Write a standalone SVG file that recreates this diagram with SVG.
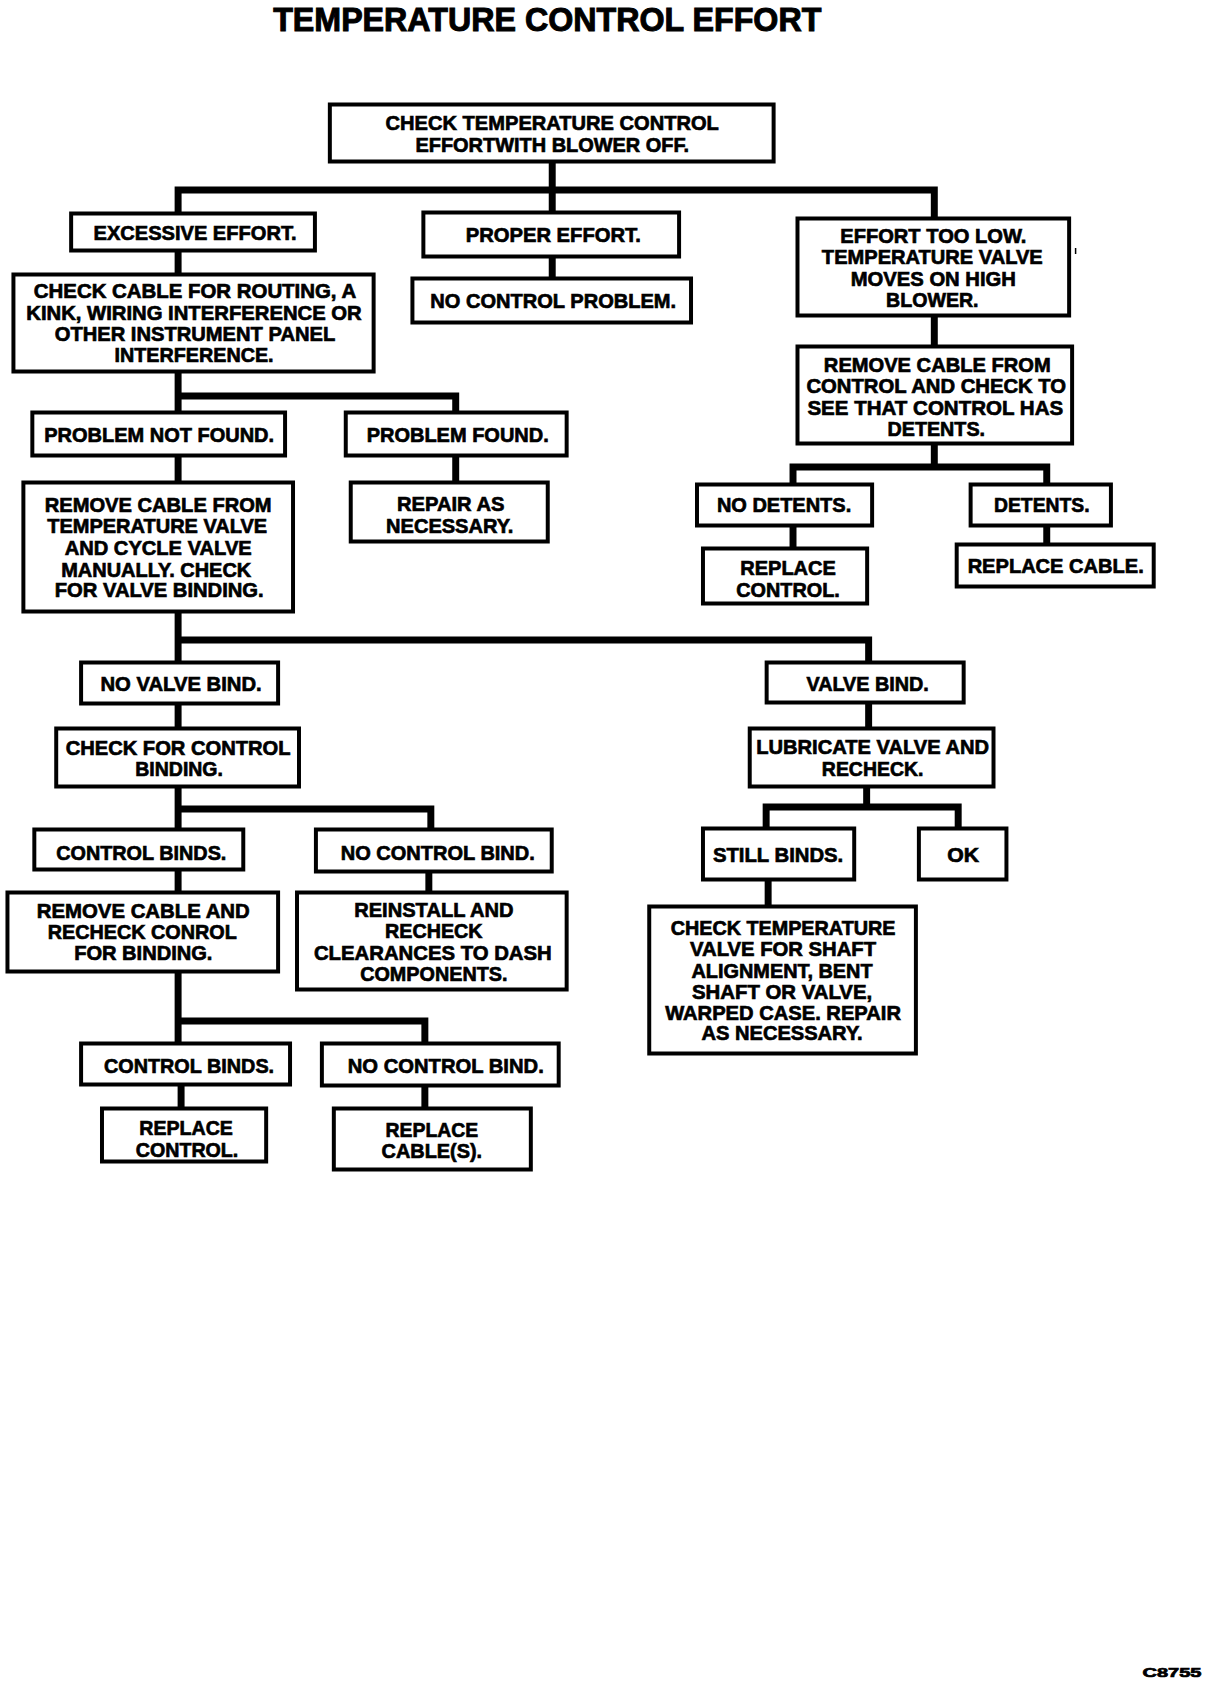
<svg xmlns="http://www.w3.org/2000/svg" width="1216" height="1692" viewBox="0 0 1216 1692">
<style>
rect.b{fill:#fff;stroke:#000;stroke-width:4}
text{font-family:"Liberation Sans",Arial,sans-serif;font-weight:bold;font-size:21px;fill:#000;stroke:#000;stroke-width:0.7px;text-anchor:middle}
.c path{fill:none;stroke:#000;stroke-width:7;stroke-linejoin:miter;stroke-linecap:butt}
</style>
<rect width="1216" height="1692" fill="#fff"/>
<g id="diagram" transform="scale(0.995,1)">
<text x="550" y="31" textLength="551" lengthAdjust="spacingAndGlyphs" style="font-size:33px;stroke-width:1px">TEMPERATURE CONTROL EFFORT</text>
<g class="c" id="connectors">
<path d="M555,163 V211"/>
<path d="M179,212 V190 H939 V217"/>
<path d="M555,258 V277"/>
<path d="M179,252 V273"/>
<path d="M939,317 V345"/>
<path d="M179,373 V411"/>
<path d="M179,396 H458 V411"/>
<path d="M179,457 V481"/>
<path d="M458,457 V481"/>
<path d="M939,445 V467"/>
<path d="M797,483 V467 H1052 V483"/>
<path d="M797,527 V547"/>
<path d="M1052,527 V543"/>
<path d="M179,613 V661"/>
<path d="M179,640 H873 V661"/>
<path d="M179,705 V727"/>
<path d="M873,704 V727"/>
<path d="M179,788 V828"/>
<path d="M179,809 H433 V828"/>
<path d="M871,788 V807"/>
<path d="M770,827 V807 H963 V827"/>
<path d="M179,871 V891"/>
<path d="M431,873 V891"/>
<path d="M772,881 V905"/>
<path d="M179,973 V1042"/>
<path d="M179,1021 H427 V1042"/>
<path d="M182,1086 V1107"/>
<path d="M427,1087 V1107"/>
</g>
<g id="n1"><rect class="b" x="331.5" y="104.5" width="446" height="57"/>
<text x="555" y="130" textLength="335" lengthAdjust="spacingAndGlyphs">CHECK TEMPERATURE CONTROL</text>
<text x="555" y="152" textLength="275" lengthAdjust="spacingAndGlyphs">EFFORTWITH BLOWER OFF.</text></g>
<g id="n2"><rect class="b" x="71.5" y="213.5" width="245" height="37"/>
<text x="196" y="240" textLength="204" lengthAdjust="spacingAndGlyphs">EXCESSIVE EFFORT.</text></g>
<g id="n3"><rect class="b" x="425.5" y="212.5" width="257" height="44"/>
<text x="556" y="242" textLength="176" lengthAdjust="spacingAndGlyphs">PROPER EFFORT.</text></g>
<g id="n4"><rect class="b" x="801.5" y="218.5" width="273" height="97"/>
<text x="938" y="243" textLength="187" lengthAdjust="spacingAndGlyphs">EFFORT TOO LOW.</text>
<text x="937" y="264" textLength="222" lengthAdjust="spacingAndGlyphs">TEMPERATURE VALVE</text>
<text x="938" y="286" textLength="166" lengthAdjust="spacingAndGlyphs">MOVES ON HIGH</text>
<text x="937" y="307" textLength="93" lengthAdjust="spacingAndGlyphs">BLOWER.</text></g>
<path d="M1081,248 V254" stroke="#000" stroke-width="1.5"/>
<g id="n5"><rect class="b" x="414.5" y="278.5" width="280" height="44"/>
<text x="556" y="308" textLength="247" lengthAdjust="spacingAndGlyphs">NO CONTROL PROBLEM.</text></g>
<g id="n6"><rect class="b" x="13.5" y="274.5" width="362" height="97"/>
<text x="196" y="298" textLength="324" lengthAdjust="spacingAndGlyphs">CHECK CABLE FOR ROUTING, A</text>
<text x="195" y="320" textLength="337" lengthAdjust="spacingAndGlyphs">KINK, WIRING INTERFERENCE OR</text>
<text x="196" y="341" textLength="282" lengthAdjust="spacingAndGlyphs">OTHER INSTRUMENT PANEL</text>
<text x="195" y="362" textLength="160" lengthAdjust="spacingAndGlyphs">INTERFERENCE.</text></g>
<g id="n7"><rect class="b" x="801.5" y="346.5" width="276" height="97"/>
<text x="942" y="372" textLength="228" lengthAdjust="spacingAndGlyphs">REMOVE CABLE FROM</text>
<text x="941" y="393" textLength="261" lengthAdjust="spacingAndGlyphs">CONTROL AND CHECK TO</text>
<text x="940" y="415" textLength="257" lengthAdjust="spacingAndGlyphs">SEE THAT CONTROL HAS</text>
<text x="941" y="436" textLength="98" lengthAdjust="spacingAndGlyphs">DETENTS.</text></g>
<g id="n8"><rect class="b" x="32.5" y="412.5" width="254" height="43"/>
<text x="160" y="442" textLength="231" lengthAdjust="spacingAndGlyphs">PROBLEM NOT FOUND.</text></g>
<g id="n9"><rect class="b" x="347.5" y="412.5" width="222" height="43"/>
<text x="460" y="442" textLength="183" lengthAdjust="spacingAndGlyphs">PROBLEM FOUND.</text></g>
<g id="n10"><rect class="b" x="23.5" y="482.5" width="271" height="129"/>
<text x="159" y="512" textLength="228" lengthAdjust="spacingAndGlyphs">REMOVE CABLE FROM</text>
<text x="158" y="533" textLength="221" lengthAdjust="spacingAndGlyphs">TEMPERATURE VALVE</text>
<text x="159" y="555" textLength="188" lengthAdjust="spacingAndGlyphs">AND CYCLE VALVE</text>
<text x="157" y="577" textLength="191" lengthAdjust="spacingAndGlyphs">MANUALLY. CHECK</text>
<text x="160" y="597" textLength="210" lengthAdjust="spacingAndGlyphs">FOR VALVE BINDING.</text></g>
<g id="n11"><rect class="b" x="352.5" y="482.5" width="198" height="59"/>
<text x="453" y="511" textLength="108" lengthAdjust="spacingAndGlyphs">REPAIR AS</text>
<text x="452" y="533" textLength="128" lengthAdjust="spacingAndGlyphs">NECESSARY.</text></g>
<g id="n12"><rect class="b" x="700.5" y="484.5" width="176" height="41"/>
<text x="788" y="512" textLength="135" lengthAdjust="spacingAndGlyphs">NO DETENTS.</text></g>
<g id="n13"><rect class="b" x="975.5" y="484.5" width="141" height="41"/>
<text x="1047" y="512" textLength="96" lengthAdjust="spacingAndGlyphs">DETENTS.</text></g>
<g id="n14"><rect class="b" x="706.5" y="548.5" width="165" height="55"/>
<text x="792" y="575" textLength="96" lengthAdjust="spacingAndGlyphs">REPLACE</text>
<text x="792" y="597" textLength="104" lengthAdjust="spacingAndGlyphs">CONTROL.</text></g>
<g id="n15"><rect class="b" x="961.5" y="544.5" width="198" height="42"/>
<text x="1061" y="573" textLength="177" lengthAdjust="spacingAndGlyphs">REPLACE CABLE.</text></g>
<g id="n16"><rect class="b" x="81.5" y="662.5" width="198" height="41"/>
<text x="182" y="691" textLength="162" lengthAdjust="spacingAndGlyphs">NO VALVE BIND.</text></g>
<g id="n17"><rect class="b" x="770.5" y="662.5" width="198" height="40"/>
<text x="872" y="691" textLength="123" lengthAdjust="spacingAndGlyphs">VALVE BIND.</text></g>
<g id="n18"><rect class="b" x="56.5" y="728.5" width="244" height="58"/>
<text x="179" y="755" textLength="226" lengthAdjust="spacingAndGlyphs">CHECK FOR CONTROL</text>
<text x="180" y="776" textLength="88" lengthAdjust="spacingAndGlyphs">BINDING.</text></g>
<g id="n19"><rect class="b" x="753.5" y="728.5" width="245" height="58"/>
<text x="877" y="754" textLength="234" lengthAdjust="spacingAndGlyphs">LUBRICATE VALVE AND</text>
<text x="877" y="776" textLength="102" lengthAdjust="spacingAndGlyphs">RECHECK.</text></g>
<g id="n20"><rect class="b" x="34.5" y="829.5" width="210" height="40"/>
<text x="142" y="860" textLength="171" lengthAdjust="spacingAndGlyphs">CONTROL BINDS.</text></g>
<g id="n21"><rect class="b" x="317.5" y="829.5" width="237" height="42"/>
<text x="440" y="860" textLength="195" lengthAdjust="spacingAndGlyphs">NO CONTROL BIND.</text></g>
<g id="n22"><rect class="b" x="706.5" y="828.5" width="152" height="51"/>
<text x="782" y="862" textLength="131" lengthAdjust="spacingAndGlyphs">STILL BINDS.</text></g>
<g id="n23"><rect class="b" x="923.5" y="828.5" width="88" height="51"/>
<text x="968" y="862" textLength="32" lengthAdjust="spacingAndGlyphs">OK</text></g>
<g id="n24"><rect class="b" x="7.5" y="892.5" width="272" height="79"/>
<text x="144" y="918" textLength="214" lengthAdjust="spacingAndGlyphs">REMOVE CABLE AND</text>
<text x="143" y="939" textLength="190" lengthAdjust="spacingAndGlyphs">RECHECK CONROL</text>
<text x="144" y="960" textLength="139" lengthAdjust="spacingAndGlyphs">FOR BINDING.</text></g>
<g id="n25"><rect class="b" x="298.5" y="892.5" width="271" height="97"/>
<text x="436" y="917" textLength="160" lengthAdjust="spacingAndGlyphs">REINSTALL AND</text>
<text x="436" y="938" textLength="98" lengthAdjust="spacingAndGlyphs">RECHECK</text>
<text x="435" y="960" textLength="239" lengthAdjust="spacingAndGlyphs">CLEARANCES TO DASH</text>
<text x="436" y="981" textLength="148" lengthAdjust="spacingAndGlyphs">COMPONENTS.</text></g>
<g id="n26"><rect class="b" x="652.5" y="906.5" width="268" height="147"/>
<text x="787" y="935" textLength="226" lengthAdjust="spacingAndGlyphs">CHECK TEMPERATURE</text>
<text x="787" y="956" textLength="187" lengthAdjust="spacingAndGlyphs">VALVE FOR SHAFT</text>
<text x="786" y="978" textLength="182" lengthAdjust="spacingAndGlyphs">ALIGNMENT, BENT</text>
<text x="786" y="999" textLength="181" lengthAdjust="spacingAndGlyphs">SHAFT OR VALVE,</text>
<text x="787" y="1020" textLength="237" lengthAdjust="spacingAndGlyphs">WARPED CASE. REPAIR</text>
<text x="786" y="1040" textLength="162" lengthAdjust="spacingAndGlyphs">AS NECESSARY.</text></g>
<g id="n27"><rect class="b" x="81.5" y="1043.5" width="210" height="41"/>
<text x="190" y="1073" textLength="171" lengthAdjust="spacingAndGlyphs">CONTROL BINDS.</text></g>
<g id="n28"><rect class="b" x="323.5" y="1043.5" width="238" height="42"/>
<text x="448" y="1073" textLength="197" lengthAdjust="spacingAndGlyphs">NO CONTROL BIND.</text></g>
<g id="n29"><rect class="b" x="102.5" y="1108.5" width="165" height="53"/>
<text x="187" y="1135" textLength="94" lengthAdjust="spacingAndGlyphs">REPLACE</text>
<text x="188" y="1157" textLength="103" lengthAdjust="spacingAndGlyphs">CONTROL.</text></g>
<g id="n30"><rect class="b" x="335.5" y="1108.5" width="198" height="61"/>
<text x="434" y="1137" textLength="93" lengthAdjust="spacingAndGlyphs">REPLACE</text>
<text x="434" y="1158" textLength="101" lengthAdjust="spacingAndGlyphs">CABLE(S).</text></g>
</g>
<text x="1172" y="1677" textLength="59" lengthAdjust="spacingAndGlyphs" style="font-size:13px">C8755</text>
</svg>
